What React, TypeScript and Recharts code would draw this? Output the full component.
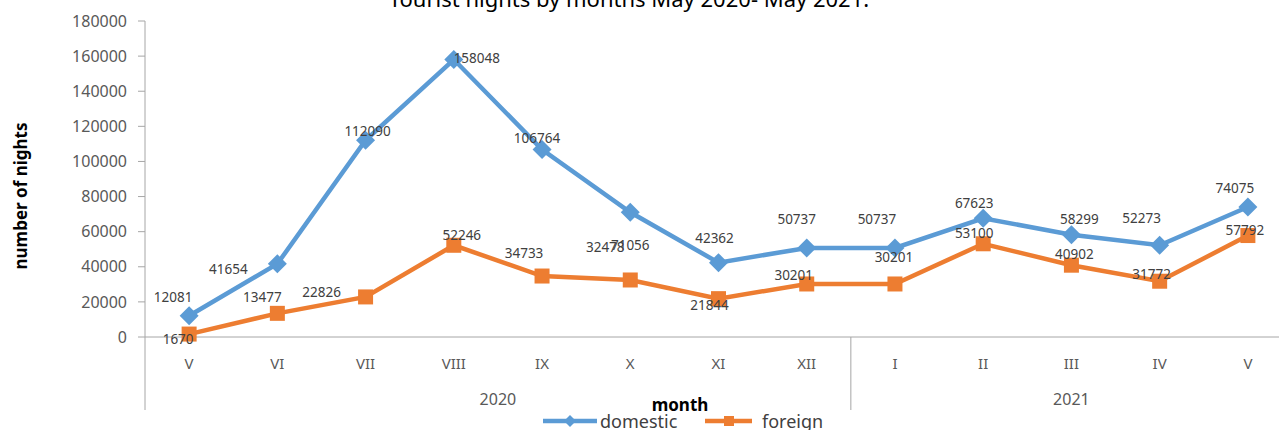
import { LineChart, Line, XAxis, YAxis, Legend, LabelList } from 'recharts'

const months = ['V', 'VI', 'VII', 'VIII', 'IX', 'X', 'XI', 'XII', 'I', 'II', 'III', 'IV', 'V']
const years = ['2020', '2020', '2020', '2020', '2020', '2020', '2020', '2020', '2021', '2021', '2021', '2021', '2021']
const domestic = [12081, 41654, 112090, 158048, 106764, 71056, 42362, 50737, 50737, 67623, 58299, 52273, 74075]
const foreign = [1670, 13477, 22826, 52246, 34733, 32478, 21844, 30201, 30201, 53100, 40902, 31772, 57792]
const yTicks = [0, 20000, 40000, 60000, 80000, 100000, 120000, 140000, 160000, 180000]

// label offsets from each point (dx, dy)
const domesticLabelOffset = [
  [-16, -19], [-49, 5], [2, -9], [23, -2], [-5, -12], [0, 33], [-4, -25],
  [-10, -29], [-18, -29], [-9, -15], [8, -16], [-18, -27], [-13, -19],
]
const foreignLabelOffset = [
  [-11, 5], [-15, -16], [-44, -5], [8, -10], [-18, -23], [-25, -33], [-9, 6],
  [-13, -9], [-1, -27], [-9, -11], [3, -11], [-8, -7], [-3, -6],
]

const BLUE = '#5B9BD5'
const ORANGE = '#ED7D31'
const AXIS = '#A6A6A6'
const FONT = '"Noto Sans", "Open Sans", sans-serif'

const CHART_W = 1300
const CHART_H = 430
const Y_W = 145
const M_RIGHT = 8
const BAND = (CHART_W - Y_W - M_RIGHT) / months.length

const chartData = months.map((m, i) => ({
  month: m,
  year: years[i],
  domestic: domestic[i],
  foreign: foreign[i],
}))

function Diamond({ cx, cy, r = 9.5, fill }: { cx?: number; cy?: number; r?: number; fill: string }) {
  if (cx == null || cy == null) return null
  return <polygon points={`${cx},${cy - r} ${cx + r},${cy} ${cx},${cy + r} ${cx - r},${cy}`} fill={fill} />
}

function Square({ cx, cy, s = 15, fill }: { cx?: number; cy?: number; s?: number; fill: string }) {
  if (cx == null || cy == null) return null
  return <rect x={cx - s / 2} y={cy - s / 2} width={s} height={s} fill={fill} />
}

function makeLabel(offsets: number[][]) {
  return (props: any) => {
    const x = props.x ?? props.viewBox?.x
    const y = props.y ?? props.viewBox?.y
    const i = props.index ?? 0
    if (x == null || y == null) return null
    const [dx, dy] = offsets[i] || [0, -12]
    return (
      <text
        x={x + dx}
        y={y + dy}
        textAnchor="middle"
        dominantBaseline="central"
        fontSize={13.5}
        fontFamily={FONT}
        fill="#404040"
      >
        {props.value}
      </text>
    )
  }
}

function MonthTick(props: any) {
  const { x, y, payload } = props
  return (
    <text
      x={x}
      y={y + 26}
      textAnchor="middle"
      dominantBaseline="central"
      fontSize={15}
      fontFamily={FONT}
      style={{ fontFamily: FONT }}
      fill="#595959"
    >
      {payload.value}
    </text>
  )
}

function YearTick(props: any) {
  const { x, y } = props
  const i = props.index ?? props.payload?.index ?? 0
  if (i > 0 && years[i] === years[i - 1]) return null
  const count = years.filter((yr) => yr === years[i]).length
  const sepX = x - BAND / 2
  return (
    <g>
      <line x1={sepX} y1={y - 40} x2={sepX} y2={y + 33} stroke={AXIS} strokeWidth={1} />
      <text
        x={x + ((count - 1) / 2) * BAND}
        y={y + 22}
        textAnchor="middle"
        dominantBaseline="central"
        fontSize={16}
        fontFamily={FONT}
        fill="#595959"
      >
        {years[i]}
      </text>
    </g>
  )
}

function LegendContent() {
  return (
    <svg width={300} height={20} style={{ overflow: 'visible' }}>
      <line x1={3} y1={11} x2={57} y2={11} stroke={BLUE} strokeWidth={4.5} />
      <Diamond cx={30} cy={11} r={6} fill={BLUE} />
      <text x={60} y={11} dominantBaseline="central" fontSize={18} fontFamily={FONT} fill="#404040">
        domestic
      </text>
      <line x1={165} y1={11} x2={212} y2={11} stroke={ORANGE} strokeWidth={4.5} />
      <Square cx={189} cy={11} s={10} fill={ORANGE} />
      <text x={222} y={11} dominantBaseline="central" fontSize={18} fontFamily={FONT} fill="#404040">
        foreign
      </text>
    </svg>
  )
}

export default function App() {
  return (
    <div
      style={{
        position: 'absolute',
        left: 0,
        top: 0,
        width: 1279,
        height: 430,
        overflow: 'hidden',
        background: '#fff',
        fontFamily: FONT,
      }}
    >
      <svg width={1279} height={20} style={{ position: 'absolute', left: 0, top: 0, zIndex: 2 }}>
        <text x={629} y={7} textAnchor="middle" fontSize={22} fontFamily={FONT} fill="#000">
          Tourist nights by months May 2020- May 2021.
        </text>
      </svg>
      <LineChart width={CHART_W} height={CHART_H} data={chartData} margin={{ top: 21, right: M_RIGHT, bottom: 20, left: 0 }}>
        <XAxis
          dataKey="month"
          xAxisId="month"
          interval={0}
          height={40}
          padding={{ left: BAND / 2, right: BAND / 2 }}
          tickSize={0}
          tickMargin={0}
          tick={<MonthTick />}
          axisLine={{ stroke: AXIS }}
          tickLine={false}
        />
        <XAxis
          dataKey="month"
          xAxisId="year"
          interval={0}
          height={33}
          padding={{ left: BAND / 2, right: BAND / 2 }}
          tickSize={0}
          tickMargin={0}
          tick={<YearTick />}
          axisLine={false}
          tickLine={false}
          label={{
            content: () => (
              <text x={680} y={404} textAnchor="middle" dominantBaseline="central" fontSize={17} fontWeight="bold" fontFamily={FONT} fill="#000">
                month
              </text>
            ),
          }}
        />
        <YAxis
          width={Y_W}
          domain={[0, 180000]}
          ticks={yTicks}
          interval={0}
          tickSize={7}
          tickMargin={11}
          axisLine={{ stroke: AXIS }}
          tickLine={{ stroke: AXIS }}
          tick={{ fontSize: 16, fontFamily: FONT, fill: '#595959' }}
          label={{
            content: () => (
              <text
                x={20}
                y={196}
                transform="rotate(-90, 20, 196)"
                textAnchor="middle"
                dominantBaseline="central"
                fontSize={17}
                fontWeight="bold"
                fontFamily={FONT}
                fill="#000"
              >
                number of nights
              </text>
            ),
          }}
        />
        <Legend
          layout="vertical"
          align="center"
          verticalAlign="middle"
          content={<LegendContent />}
          wrapperStyle={{ left: 540, top: 410, width: 300, height: 20 }}
        />
        <Line
          xAxisId="month"
          dataKey="domestic"
          name="domestic"
          stroke={BLUE}
          strokeWidth={4.5}
          dot={(p: any) => <Diamond key={`d${p.index}`} cx={p.cx} cy={p.cy} fill={BLUE} />}
          activeDot={false}
          isAnimationActive={false}
        >
          <LabelList dataKey="domestic" content={makeLabel(domesticLabelOffset)} />
        </Line>
        <Line
          xAxisId="month"
          dataKey="foreign"
          name="foreign"
          stroke={ORANGE}
          strokeWidth={4.5}
          dot={(p: any) => <Square key={`f${p.index}`} cx={p.cx} cy={p.cy} fill={ORANGE} />}
          activeDot={false}
          isAnimationActive={false}
        >
          <LabelList dataKey="foreign" content={makeLabel(foreignLabelOffset)} />
        </Line>
      </LineChart>
    </div>
  )
}
